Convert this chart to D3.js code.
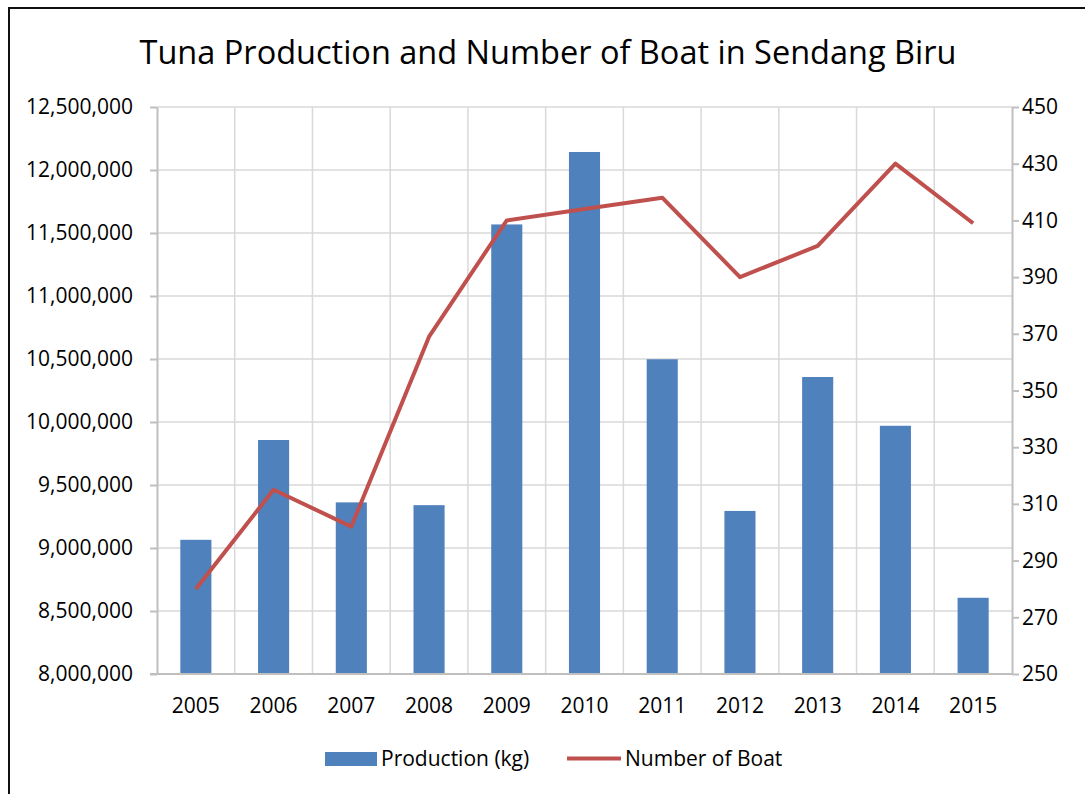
<!DOCTYPE html>
<html>
<head>
<meta charset="utf-8">
<script src="https://cdn.jsdelivr.net/npm/d3@7"></script>
<style>
  body { margin: 0; background: #fff; }
  text { font-family: "Open Sans", sans-serif; fill: #000; }
</style>
</head>
<body>
<div id="chart-area"></div>
<script>
// data
var years = ["2005","2006","2007","2008","2009","2010","2011","2012","2013","2014","2015"];
var production = [9065000, 9857000, 9362000, 9340000, 11568000, 12143000, 10498000, 9294000, 10357000, 9970000, 8605000];
var boats = [280, 315, 302, 369, 410, 414, 418, 390, 401, 430, 409];
var leftTicks = [8000000, 8500000, 9000000, 9500000, 10000000, 10500000, 11000000, 11500000, 12000000, 12500000];
var rightTicks = [250, 270, 290, 310, 330, 350, 370, 390, 410, 430, 450];

var W = 1085, H = 794;
var m = {left: 157, right: 1012, top: 107, bottom: 674};

var svg = d3.select("#chart-area").append("svg")
    .attr("width", W)
    .attr("height", H);

// frame
svg.append("path")
    .attr("d", "M9," + H + "V8H" + W)
    .attr("fill", "none")
    .attr("stroke", "#111")
    .attr("stroke-width", 2);

var x = d3.scaleBand()
    .domain(years)
    .range([m.left, m.right])
    .paddingInner(0.6)
    .paddingOuter(0.3);

var step = (m.right - m.left) / years.length;

var yL = d3.scaleLinear()
    .domain([8000000, 12500000])
    .range([m.bottom, m.top]);

var yR = d3.scaleLinear()
    .domain([250, 450])
    .range([m.bottom, m.top]);

// gridlines
svg.append("g").selectAll("line.h")
    .data(leftTicks.slice(1))
    .enter().append("line")
        .attr("x1", m.left).attr("x2", m.right)
        .attr("y1", (d)=>{return yL(d)}).attr("y2", (d)=>{return yL(d)})
        .attr("stroke", "#d9d9d9").attr("stroke-width", 1.5);

svg.append("g").selectAll("line.v")
    .data(d3.range(1, years.length))
    .enter().append("line")
        .attr("x1", (d)=>{return m.left + d*step}).attr("x2", (d)=>{return m.left + d*step})
        .attr("y1", m.top).attr("y2", m.bottom)
        .attr("stroke", "#d9d9d9").attr("stroke-width", 1.5);

// bars
svg.append("g").selectAll("rect")
    .data(production)
    .enter().append("rect")
        .attr("x", (d, i)=>{return x(years[i])})
        .attr("y", (d)=>{return yL(d)})
        .attr("width", x.bandwidth())
        .attr("height", (d)=>{return m.bottom - yL(d)})
        .attr("fill", "#4f81bd");

// axes
var leftAxis = d3.axisLeft(yL)
    .tickValues(leftTicks)
    .tickSize(7)
    .tickPadding(17)
    .tickFormat(d3.format(","));

var rightAxis = d3.axisRight(yR)
    .tickValues(rightTicks)
    .tickSize(7)
    .tickPadding(3);

var bottomAxis = d3.axisBottom(x)
    .tickSize(0)
    .tickPadding(24);

function styleAxis(g) {
    g.select(".domain").attr("stroke", "#bfbfbf").attr("stroke-width", 2);
    g.selectAll(".tick line").attr("stroke", "#bfbfbf").attr("stroke-width", 2);
    g.selectAll("text").style("font-size", "21px").attr("fill", "#000");
}

svg.append("g")
    .attr("transform", "translate(" + m.left + ",0)")
    .call(leftAxis.tickSizeOuter(0))
    .call(styleAxis);

svg.append("g")
    .attr("transform", "translate(" + m.right + ",0)")
    .call(rightAxis.tickSizeOuter(0))
    .call(styleAxis);

svg.append("g")
    .attr("transform", "translate(0," + m.bottom + ")")
    .call(bottomAxis.tickSizeOuter(0))
    .call(styleAxis)
    .call((g)=>{ g.select(".domain").attr("d", "M" + (m.left - 7) + ",0H" + m.right) });

// line
var line = d3.line()
    .x((d, i)=>{return x(years[i]) + x.bandwidth()/2})
    .y((d)=>{return yR(d)});

svg.append("path")
    .datum(boats)
    .attr("d", line)
    .attr("fill", "none")
    .attr("stroke", "#c0504d")
    .attr("stroke-width", 4)
    .attr("stroke-linejoin", "round");

// title
svg.append("text")
    .attr("x", 548)
    .attr("y", 64)
    .attr("text-anchor", "middle")
    .style("font-size", "32.5px")
    .text("Tuna Production and Number of Boat in Sendang Biru");

// legend
var legend = svg.append("g");
legend.append("rect")
    .attr("x", 325).attr("y", 752)
    .attr("width", 52).attr("height", 14)
    .attr("fill", "#4f81bd");
legend.append("text")
    .attr("x", 381).attr("y", 766)
    .style("font-size", "21px")
    .text("Production (kg)");
legend.append("line")
    .attr("x1", 567).attr("x2", 621)
    .attr("y1", 758.5).attr("y2", 758.5)
    .attr("stroke", "#c0504d").attr("stroke-width", 4);
legend.append("text")
    .attr("x", 625).attr("y", 766)
    .style("font-size", "21px")
    .text("Number of Boat");
</script>
</body>
</html>
